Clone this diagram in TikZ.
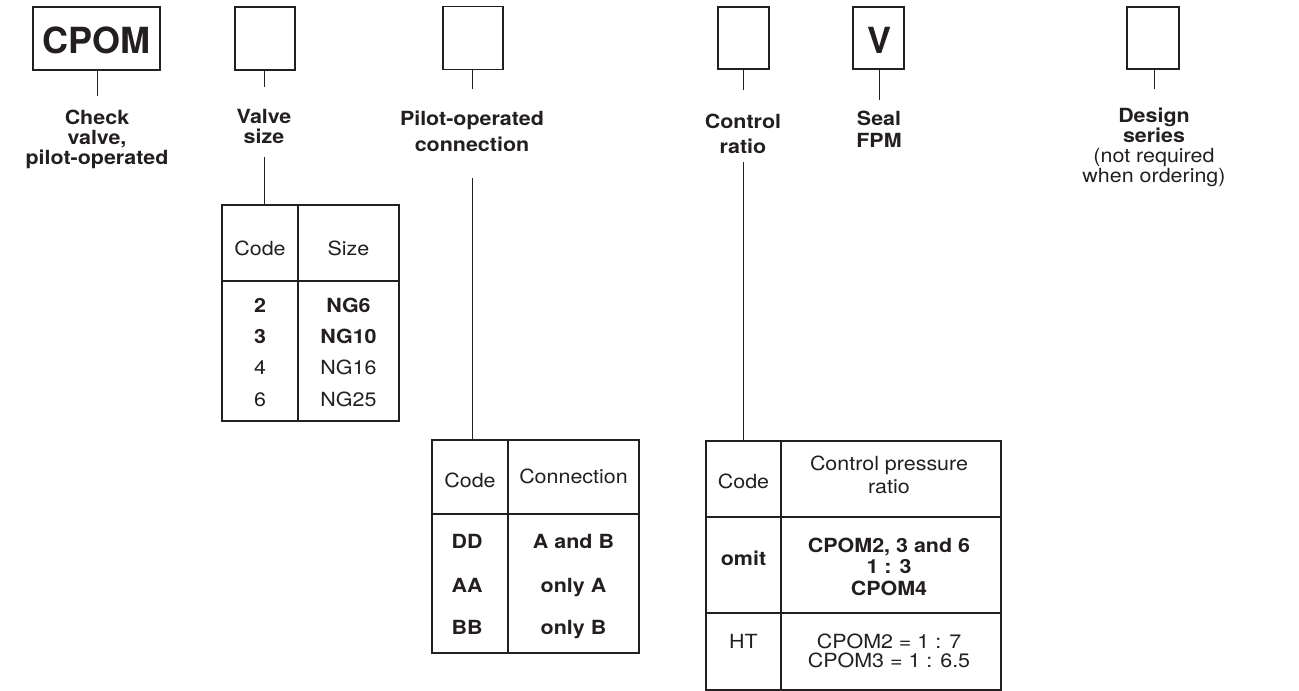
\documentclass[tikz,border=0pt]{standalone}
\usepackage{fontspec}
\setmainfont{TeX Gyre Heros}[FakeStretch=1.1]
\newfontfamily\boxfont{TeX Gyre Heros}
\definecolor{ink}{HTML}{231F20}
\newcommand\mlines[2]{{\fontsize{19.5}{#1}\selectfont\begin{tabular}[t]{@{}c@{}}#2\end{tabular}}}
\begin{document}
\begin{tikzpicture}[x=1pt,y=-1pt,
  every node/.style={inner sep=0pt,outer sep=0pt,text=ink},
  codebox/.style={draw=ink,line width=1.3pt,rectangle},
  stem/.style={draw=ink,line width=1pt},
  tbl/.style={draw=ink,line width=1.2pt,rectangle},
  rule/.style={draw=ink,line width=1.1pt},
  lbl/.style={anchor=base,font=\bfseries},
  txt/.style={anchor=base,font=\fontsize{19.5}{21}\selectfont},
  btxt/.style={anchor=base,font=\fontsize{19.5}{21}\selectfont\bfseries},
  big/.style={anchor=base,font=\boxfont\fontsize{36}{40}\selectfont\bfseries}
]
\useasboundingbox (0,0) rectangle (1299,691);

% ---------- code boxes ----------
\node[codebox,minimum width=127pt,minimum height=63pt] (cpom) at (96.5,38.5) {};
\node[codebox,minimum width=60pt,minimum height=63pt] (vs) at (265,38.5) {};
\node[codebox,minimum width=60pt,minimum height=63pt] (po) at (473,38) {};
\node[codebox,minimum width=51pt,minimum height=62pt] (cr) at (743.5,38) {};
\node[codebox,minimum width=51pt,minimum height=62pt] (seal) at (878.5,38) {};
\node[codebox,minimum width=52pt,minimum height=62pt] (ds) at (1153,38) {};
\node[big] (cpomT) at (96.5,53) {CPOM};
\node[big] (sealT) at (879,53) {V};

% ---------- labels ----------
\node[lbl] (cpomL) at (97,124) {\mlines{20}{Check\\valve,\\pilot-operated}};
\node[lbl] (vsL) at (264,123) {\mlines{20}{Valve\\size}};
\node[lbl] (poL) at (472,125) {\mlines{26}{Pilot-operated\\connection}};
\node[lbl] (crL) at (743,128) {\mlines{25}{Control\\ratio}};
\node[lbl] (sealL) at (879,125) {\mlines{22}{Seal\\FPM}};
\node[anchor=base] (dsL) at (1154,122) {\mlines{20}{\textbf{Design}\\\textbf{series}\\(not required\\when ordering)}};

% ---------- stems top ----------
\coordinate (cpomE) at (97,96);
\coordinate (vsE) at (264,87);
\coordinate (poE) at (472,89);
\coordinate (crE) at (743,90);
\coordinate (sealE) at (879,100);
\coordinate (dsE) at (1154,89);
\draw[stem] (cpom.south) ++(0.5,0) -- (cpomE);
\draw[stem] (vs.south) ++(-1,0) -- (vsE);
\draw[stem] (po.south) ++(-1,0) -- (poE);
\draw[stem] (cr.south) ++(-0.5,0) -- (crE);
\draw[stem] (seal.south) ++(0.5,0) -- (sealE);
\draw[stem] (ds.south) ++(1,0) -- (dsE);

% ---------- tables ----------
\node[tbl,minimum width=177pt,minimum height=216pt] (t1) at (310.5,313) {};
\node[tbl,minimum width=207pt,minimum height=213pt] (t2) at (535.5,546.5) {};
\node[tbl,minimum width=295pt,minimum height=249pt] (t3) at (853.5,565.5) {};

% stems to tables
\coordinate (vsS) at (264,157);
\coordinate (poS) at (472,178);
\coordinate (crS) at (743,162);
\draw[stem] (vsS) -- (vsS |- t1.north);
\draw[stem] (poS) -- (poS |- t2.north);
\draw[stem] (crS) -- (crS |- t3.north);

% table 1 rules
\draw[rule] (298,205) -- (298,421);
\draw[rule] (222,281) -- (399,281);
% table 2 rules
\draw[rule] (508,440) -- (508,653);
\draw[rule] (432,514) -- (639,514);
% table 3 rules
\draw[rule] (781,441) -- (781,690);
\draw[rule] (706,517) -- (1001,517);
\draw[rule] (706,613) -- (1001,613);

% ---------- table 1 text ----------
\node[txt] (t1h1) at (260,255) {Code};
\node[txt] (t1h2) at (348.5,255) {Size};
\node[btxt] (t1a) at (260,312) {2};
\node[btxt] (t1b) at (260,343) {3};
\node[txt] (t1c) at (260,374) {4};
\node[txt] (t1d) at (260,406) {6};
\node[btxt] (t1e) at (348.5,312) {NG6};
\node[btxt] (t1f) at (348.5,343) {NG10};
\node[txt] (t1g) at (348.5,374) {NG16};
\node[txt] (t1h) at (348.5,406) {NG25};

% ---------- table 2 text ----------
\node[txt] (t2h1) at (470,487) {Code};
\node[txt] (t2h2) at (573.5,483) {Connection};
\node[btxt] (t2a) at (467,548) {DD};
\node[btxt] (t2b) at (467,592) {AA};
\node[btxt] (t2c) at (467,634) {BB};
\node[btxt] (t2d) at (573.5,548) {A and B};
\node[btxt] (t2e) at (573.5,592) {only A};
\node[btxt] (t2f) at (573.5,634) {only B};

% ---------- table 3 text ----------
\node[txt] (t3h1) at (743.5,488) {Code};
\node[anchor=base] (t3h2) at (889,470) {\mlines{23}{Control pressure\\ratio}};
\node[btxt] (t3a) at (743.5,565) {omit};
\node[anchor=base] (t3b) at (889,552) {\mlines{21.5}{\bfseries CPOM2, 3 and 6\\\bfseries 1 : 3\\\bfseries CPOM4}};
\node[txt] (t3c) at (743.5,648) {HT};
\node[anchor=base] (t3d) at (889,648) {\mlines{17}{CPOM2 = 1 : 7\\CPOM3 = 1 : 6.5}};
\end{tikzpicture}
\end{document}
